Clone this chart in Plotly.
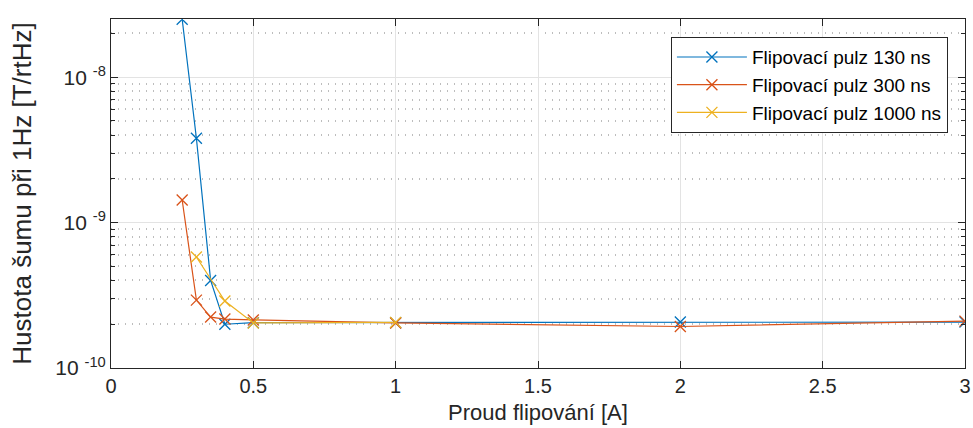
import plotly.graph_objects as go

# Data
x_130 = [0.25, 0.3, 0.35, 0.4, 0.5, 1, 2, 3]
y_130 = [2.5e-8, 3.8e-9, 4.0e-10, 2.0e-10, 2.05e-10, 2.05e-10, 2.07e-10, 2.07e-10]

x_300 = [0.25, 0.3, 0.35, 0.4, 0.5, 1, 2, 3]
y_300 = [1.43e-9, 2.93e-10, 2.24e-10, 2.17e-10, 2.14e-10, 2.04e-10, 1.93e-10, 2.1e-10]

x_1000 = [0.3, 0.4, 0.5, 1]
y_1000 = [5.8e-10, 2.89e-10, 2.04e-10, 2.06e-10]

names = ["Flipovací pulz 130 ns", "Flipovací pulz 300 ns", "Flipovací pulz 1000 ns"]
colors = ["#0072BD", "#D95319", "#EDB120"]

y_major = [1e-10, 1e-9, 1e-8]
y_major_text = ["10 <sup>-10</sup>", "10 <sup>-9</sup>", "10 <sup>-8</sup>"]
y_minor = [m * d for d in (1e-10, 1e-9, 1e-8) for m in range(2, 10)]
x_ticks = [0, 0.5, 1, 1.5, 2, 2.5, 3]
x_ticktext = ["0", "0.5", "1", "1.5", "2", "2.5", "3"]

fig = go.Figure()
for xs, ys, nm, c in zip([x_130, x_300, x_1000], [y_130, y_300, y_1000], names, colors):
    fig.add_trace(go.Scatter(
        x=xs, y=ys, name=nm, mode="lines+markers",
        line=dict(color=c, width=1.2),
        marker=dict(symbol="x-thin", size=11, line=dict(color=c, width=1.3)),
    ))

font = "Liberation Sans, Arial, sans-serif"
fig.update_layout(
    width=973, height=428,
    margin=dict(l=111, r=8, t=19, b=60, autoexpand=False),
    paper_bgcolor="white", plot_bgcolor="white",
    font=dict(family=font, size=20, color="#262626"),
    showlegend=True,
    legend=dict(
        x=0.98, y=0.948, xanchor="right", yanchor="top",
        bgcolor="white", bordercolor="#262626", borderwidth=1,
        font=dict(size=19, color="#000000"),
        tracegroupgap=0, itemwidth=70,
    ),
)
fig.update_xaxes(
    range=[0, 3], tickvals=x_ticks, ticktext=x_ticktext, automargin=False,
    tickfont=dict(size=20),
    showline=True, linecolor="#262626", linewidth=1, mirror="ticks",
    ticks="inside", ticklen=7, tickcolor="#262626",
    showgrid=True, gridcolor="#e3e3e3", gridwidth=1, zeroline=False,
    title=dict(text="Proud flipování [A]", font=dict(size=22), standoff=8),
)
fig.update_yaxes(
    type="log", range=[-10, -7.6], automargin=False,
    tickvals=y_major, ticktext=y_major_text, tickfont=dict(size=21),
    showline=True, linecolor="#262626", linewidth=1, mirror="ticks",
    ticks="inside", ticklen=7, tickcolor="#262626",
    showgrid=True, gridcolor="#e3e3e3", gridwidth=1, zeroline=False,
    minor=dict(tickvals=y_minor, ticks="inside", ticklen=4, tickcolor="#262626",
               showgrid=True, gridcolor="#bdbdbd", griddash="1px,6px", gridwidth=1.5),
    title=dict(text="Hustota šumu při 1Hz [T/rtHz]", font=dict(size=26), standoff=16),
)

fig.write_html("out.html")
